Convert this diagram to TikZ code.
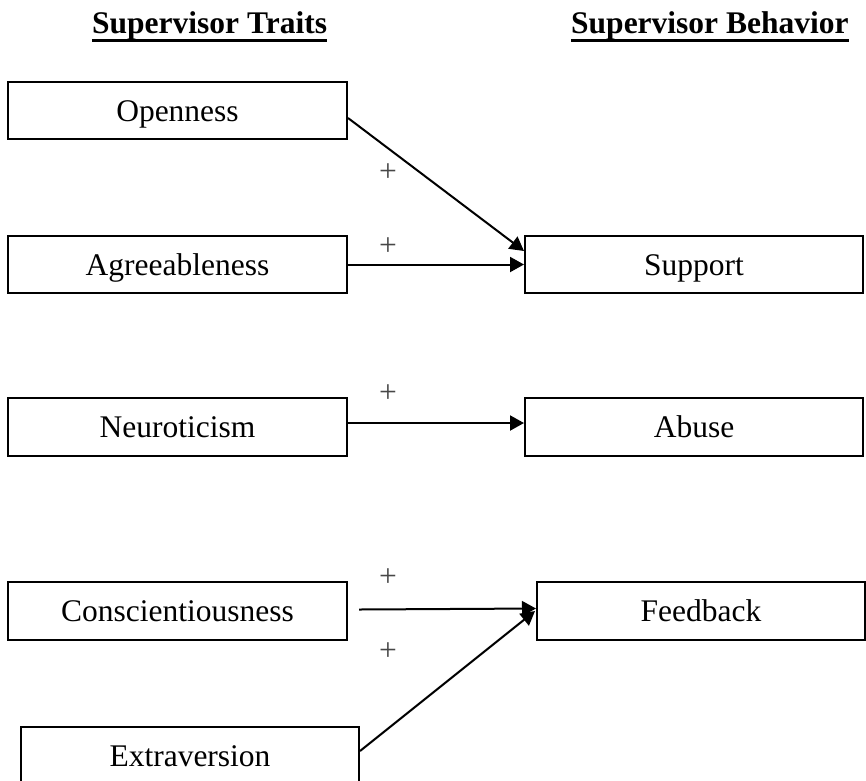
\documentclass[tikz,border=0pt]{standalone}
\usepackage{fontspec}
\setmainfont{Liberation Serif}
\usetikzlibrary{arrows.meta,calc}

\tikzset{
  trait/.style={draw, line width=2pt, rectangle, inner sep=0pt,
    minimum height=57pt, text height=21pt, text depth=0pt,
    font=\fontsize{31.5}{36}\selectfont},
  heading/.style={inner sep=0pt, anchor=base west,
    font=\fontsize{31.5}{36}\selectfont\bfseries},
  uline/.style={line width=2.5pt},
  link/.style={line width=2pt, -{Triangle[length=14pt,width=15pt]}},
  sign/.style={inner sep=0pt, text=black!72,
    font=\fontsize{31.5}{36}\selectfont}
}

\begin{document}
\begin{tikzpicture}[x=1pt, y=-1pt]
  \useasboundingbox (0,0) rectangle (866,780);
  \clip (0,0) rectangle (866,780);

  % column headings
  \node[heading] (htraits) at (92,33.5) {Supervisor Traits};
  \node[heading] (hbehav)  at (571,33.5) {Supervisor Behavior};
  \draw[uline] ($(htraits.base west)+(0,7)$) -- ($(htraits.base east)+(0,7)$);
  \draw[uline] ($(hbehav.base west)+(0,7)$) -- ($(hbehav.base east)+(0,7)$);

  % traits
  \node[trait, minimum width=339pt] (open)  at (177.5,110.5) {Openness};
  \node[trait, minimum width=339pt] (agree) at (177.5,264.5) {Agreeableness};
  \node[trait, minimum width=339pt, minimum height=58pt] (neuro) at (177.5,427) {Neuroticism};
  \node[trait, minimum width=339pt, minimum height=58pt] (consc) at (177.5,611) {Conscientiousness};
  \node[trait, minimum width=338pt, minimum height=58pt] (extra) at (190,756) {Extraversion};

  % behaviors
  \node[trait, minimum width=338pt] (support) at (694,264.5) {Support};
  \node[trait, minimum width=338pt, minimum height=58pt] (abuse) at (694,427) {Abuse};
  \node[trait, minimum width=328pt, minimum height=58pt] (feedback) at (701,611) {Feedback};

  % paths
  \draw[link] ($(open.east)+(0,7.5)$) -- ($(support.west)+(0,-13.5)$);
  \draw[link] (agree.east) -- (support.west);
  \draw[link] ($(neuro.east)+(0,-4)$) -- ($(abuse.west)+(0,-4)$);
  \draw[link] ($(consc.east)+(11,-1.5)$) -- ($(feedback.west)+(0,-2.5)$);
  \draw[link] ($(extra.east)+(0,-5)$) -- ($(feedback.west)+(-1,0)$);

  % signs
  \node[sign] (s1) at (388,173) {+};
  \node[sign] (s2) at (388,247) {+};
  \node[sign] (s3) at (388,394) {+};
  \node[sign] (s4) at (388,578) {+};
  \node[sign] (s5) at (388,652) {+};
\end{tikzpicture}
\end{document}
